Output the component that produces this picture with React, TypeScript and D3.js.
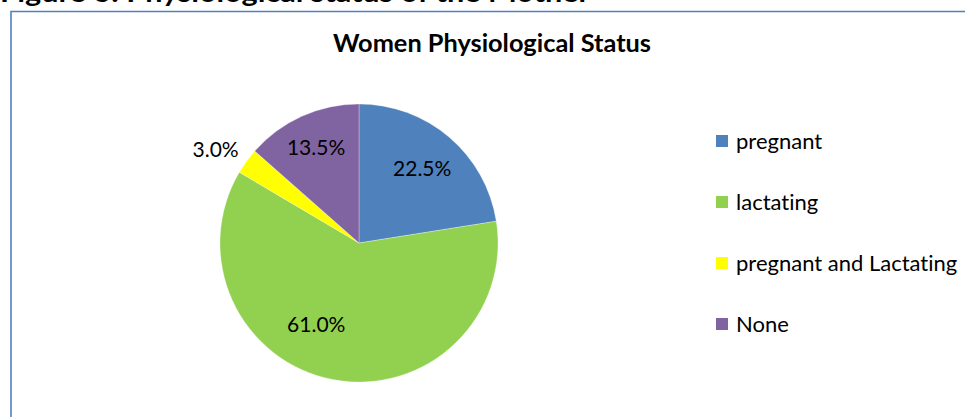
import React from "react";
import * as d3 from "d3";

const categories = ["pregnant", "lactating", "pregnant and Lactating", "None"];
const values = [22.5, 61.0, 3.0, 13.5];
const colors = ["#4F81BD", "#92D050", "#FFFF00", "#8064A2"];
const chartTitle = "Women Physiological Status";
const heading = "Figure 6: Physiological status of the Mother";

const W = 965;
const H = 417;
const FONT = "Lato, 'Open Sans', sans-serif";
const noLig = { fontVariantLigatures: "none", fontFeatureSettings: "'liga' 0, 'clig' 0" } as React.CSSProperties;

// label placement: [radius factor, angle shift in degrees]
const labelPlacement = [
  [0.7, 0],
  [0.66, 17],
  [1.23, -3],
  [0.75, 0],
];

export default function App() {
  const cx = 359;
  const cy = 243;
  const r = 139;
  const pie = d3.pie<number>().sort(null).value((d) => d)(values);
  const arc = d3.arc<d3.PieArcDatum<number>>().innerRadius(0).outerRadius(r);
  const total = d3.sum(values);

  const legendY = d3.scalePoint<string>().domain(categories).range([141, 324]);

  return (
    <svg
      width={W}
      height={H}
      style={{ position: "absolute", left: 0, top: 0, background: "#fff", ...noLig }}
    >
      <text
        x={0}
        y={2}
        fontFamily={FONT}
        fontWeight="bold"
        fontSize={27}
        fill="#000"
        textLength={590}
        lengthAdjust="spacingAndGlyphs"
      >
        {heading}
      </text>
      <path d={`M11,${H} L11,11.5 L${W},11.5`} fill="none" stroke="#4F81BD" strokeWidth={1.6} />
      <text
        x={492}
        y={52}
        textAnchor="middle"
        fontFamily={FONT}
        fontWeight="bold"
        fontSize={24}
        fill="#000"
        textLength={318}
        lengthAdjust="spacingAndGlyphs"
      >
        {chartTitle}
      </text>
      <g transform={`translate(${cx},${cy})`}>
        {pie.map((d, i) => (
          <path key={i} d={arc(d) || ""} fill={colors[i]} stroke="#fff" strokeWidth={0.3} />
        ))}
        {pie.map((d, i) => {
          const [f, shift] = labelPlacement[i];
          const a = (d.startAngle + d.endAngle) / 2 + (shift * Math.PI) / 180;
          const x = Math.sin(a) * r * f;
          const y = -Math.cos(a) * r * f;
          return (
            <text
              key={"l" + i}
              x={x}
              y={y}
              dy="0.35em"
              textAnchor="middle"
              fontFamily={FONT}
              fontSize={21}
              fill="#000"
            >
              {((values[i] / total) * 100).toFixed(1) + "%"}
            </text>
          );
        })}
      </g>
      <g>
        {categories.map((c, i) => (
          <g key={c} transform={`translate(716,${legendY(c)})`}>
            <rect x={0} y={-6} width={12} height={12} fill={colors[i]} />
            <text x={20} y={0} dy="0.35em" fontFamily={FONT} fontSize={22} fill="#000">
              {c}
            </text>
          </g>
        ))}
      </g>
    </svg>
  );
}
